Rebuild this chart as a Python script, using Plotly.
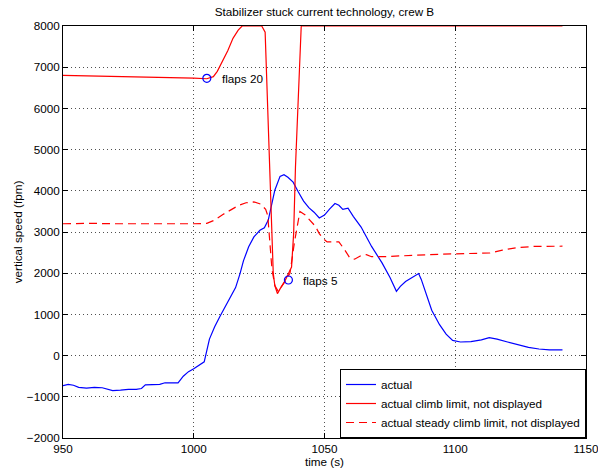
import plotly.graph_objects as go

# Vertical speed of the aircraft (actual)
t_actual = [950, 952, 954, 956, 959, 962, 965, 967, 969, 972, 975, 978, 980, 981.5,
            984, 987, 989, 992, 994, 996, 998, 1000, 1002, 1004, 1006, 1008, 1010,
            1012, 1014, 1016, 1017.7, 1019, 1021, 1023, 1025.3, 1027, 1028.5, 1031,
            1033, 1034.5, 1036, 1038, 1040, 1042, 1044, 1046, 1048, 1050, 1052, 1054,
            1055.5, 1057, 1059, 1061, 1064, 1068, 1072, 1075, 1077.5, 1079, 1081,
            1084, 1086, 1087, 1089, 1091, 1094, 1096.5, 1099, 1102, 1106, 1110, 1113,
            1116, 1120, 1124, 1128, 1132, 1136, 1141]
v_actual = [-730, -700, -720, -770, -790, -770, -780, -810, -850, -840, -820, -820,
            -800, -710, -700, -700, -660, -650, -660, -500, -390, -320, -230, -150,
            400, 700, 950, 1180, 1390, 1650, 1990, 2300, 2640, 2880, 3040, 3100, 3290,
            4015, 4350, 4390, 4330, 4210, 3970, 3750, 3590, 3480, 3340, 3410, 3560,
            3690, 3650, 3550, 3580, 3380, 3120, 2650, 2250, 1900, 1560, 1680, 1800,
            1910, 1990, 1850, 1500, 1100, 750, 520, 370, 330, 340, 380, 435, 400, 330,
            260, 200, 160, 140, 140]

# Climb limit (not displayed to the crew)
t_limit = [950, 960, 970, 980, 990, 1000, 1005, 1007.5, 1009, 1011.3, 1013, 1015,
           1017, 1018.5, 1022, 1026, 1027.3, 1028, 1028.6, 1029.2, 1029.8, 1030.4,
           1031, 1032, 1033, 1035, 1037.4, 1038.2, 1038.9, 1039.9, 1040.6, 1041.1,
           1060, 1080, 1100, 1120, 1141]
v_limit = [6800, 6790, 6775, 6760, 6745, 6735, 6720, 6770, 6900, 7170, 7400, 7700,
           7900, 8000, 8000, 8000, 7850, 6500, 5200, 4000, 2800, 2000, 1700, 1505,
           1620, 1830, 2150, 2960, 4580, 6200, 7400, 8000, 8000, 8000, 8000, 8000,
           8000]

# Steady climb limit (not displayed to the crew)
t_steady = [950, 960, 970, 980, 990, 1000, 1005, 1008, 1011, 1014, 1017, 1020, 1023,
            1025.5, 1027.5, 1028.3, 1029.1, 1029.9, 1031, 1032.3, 1034.5, 1036.8,
            1038.5, 1040.6, 1042.5, 1044.5, 1046.5, 1048, 1049.5, 1051, 1055.5,
            1057.8, 1059.7, 1061.5, 1064, 1066, 1068, 1072, 1080, 1090, 1100, 1110,
            1113.3, 1118, 1123.5, 1130, 1141]
v_steady = [3200, 3210, 3200, 3195, 3190, 3200, 3210, 3290, 3420, 3540, 3640, 3710,
            3730, 3680, 3550, 3400, 2800, 2100, 1700, 1560, 1760, 2000, 2750, 3500,
            3420, 3280, 3140, 2960, 2840, 2760, 2760, 2560, 2370, 2340, 2430, 2450,
            2400, 2400, 2430, 2450, 2470, 2480, 2490, 2560, 2620, 2650, 2655]

# Flap selection events
flap_t = [1005, 1036.2]
flap_v = [6730, 1835]
flap_labels = ["flaps 20", "flaps 5"]

x_ticks = [950, 1000, 1050, 1100, 1150]
y_ticks = [-2000, -1000, 0, 1000, 2000, 3000, 4000, 5000, 6000, 7000, 8000]

FONT = "Liberation Sans, Arial, Helvetica, sans-serif"
FS = 11.7

fig = go.Figure()
fig.add_trace(go.Scatter(x=t_actual, y=v_actual, mode="lines", name="actual",
                         line=dict(color="rgb(0,0,255)", width=1.2)))
fig.add_trace(go.Scatter(x=t_limit, y=v_limit, mode="lines",
                         name="actual climb limit, not displayed",
                         line=dict(color="rgb(255,0,0)", width=1.2)))
fig.add_trace(go.Scatter(x=t_steady, y=v_steady, mode="lines",
                         name="actual steady climb limit, not displayed",
                         line=dict(color="rgb(255,0,0)", width=1.2, dash="8px,5px")))
fig.add_trace(go.Scatter(x=flap_t, y=flap_v, mode="markers", showlegend=False,
                         marker=dict(symbol="circle-open", size=8,
                                     color="rgb(0,0,255)", line=dict(width=1.2))))

for tx, vy, label in zip(flap_t, flap_v, flap_labels):
    fig.add_annotation(x=tx, y=vy, text=label, showarrow=False, xanchor="left",
                       yanchor="middle", xshift=13, font=dict(size=FS, color="black"))

axis_common = dict(
    showline=True, linecolor="black", linewidth=1, mirror="ticks",
    ticks="inside", ticklen=5, tickcolor="black", tickwidth=1,
    showgrid=True, gridcolor="#505050", gridwidth=1, griddash="1px,3px",
    zeroline=False, tickfont=dict(size=FS, color="black"), automargin=False,
    ticklabeloverflow="allow",
)

fig.update_xaxes(range=[950, 1150], tickvals=x_ticks,
                 title=dict(text="time (s)", font=dict(size=FS, color="black"),
                            standoff=2),
                 **axis_common)
fig.update_yaxes(range=[-2000, 8000], tickvals=y_ticks,
                 ticktext=[str(v).replace("-", "\u2212") for v in y_ticks],
                 title=dict(text="vertical speed (fpm)",
                            font=dict(size=FS, color="black"), standoff=1),
                 **axis_common)

fig.update_layout(
    width=598, height=473,
    margin=dict(l=63, r=12, t=26, b=35, pad=0),
    paper_bgcolor="white", plot_bgcolor="white",
    font=dict(family=FONT, size=FS, color="black"),
    title=dict(text="Stabilizer stuck current technology, crew B",
               x=0.5, xref="paper", y=1 - 12 / 473, yref="container",
               xanchor="center", yanchor="middle",
               font=dict(size=FS, color="black")),
    legend=dict(x=1, y=0, xanchor="right", yanchor="bottom",
                bgcolor="white", bordercolor="black", borderwidth=1,
                font=dict(size=FS, color="black"), tracegroupgap=0),
    showlegend=True,
)

fig.write_html("out.html")
